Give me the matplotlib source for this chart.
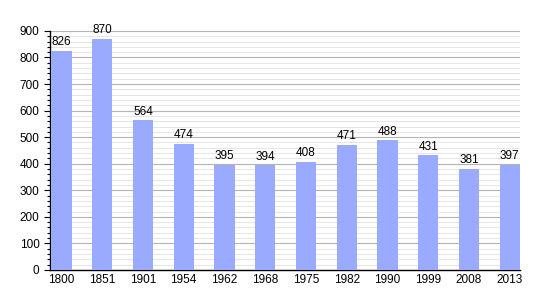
import matplotlib
matplotlib.use("Agg")
import matplotlib.pyplot as plt
from matplotlib.ticker import MultipleLocator

years = ["1800", "1851", "1901", "1954", "1962", "1968", "1975", "1982", "1990", "1999", "2008", "2013"]
population = [826, 870, 564, 474, 395, 394, 408, 471, 488, 431, 381, 397]

plt.rcParams['font.family'] = ['Liberation Sans', 'DejaVu Sans']
fig = plt.figure(figsize=(5.5, 3.0), dpi=100)
ax = fig.add_axes([0.0909, 0.1, 0.8545, 0.797])
x = list(range(len(years)))
bars = ax.bar(x, population, width=0.5, color="#99aaff", zorder=3)
for xi, v in zip(x, population):
    ax.text(xi, v + 10, str(v), ha="center", va="bottom", fontsize=8.5, zorder=4)
ax.set_xlim(-0.28, 11.25)
ax.set_ylim(0, 900)
ax.set_xticks(x)
ax.set_xticklabels(years, fontsize=8.5)
ax.yaxis.set_major_locator(MultipleLocator(100))
ax.yaxis.set_minor_locator(MultipleLocator(20))
ax.tick_params(axis="y", labelsize=8.5, length=4, width=0.8)
ax.tick_params(axis="y", which="minor", length=2, width=0.8)
ax.tick_params(axis="x", length=0, pad=3)
ax.grid(axis="y", which="major", color="#b4b4b4", linewidth=0.8, zorder=0)
ax.grid(axis="y", which="minor", color="#e2e2e2", linewidth=0.6, zorder=0)
for s in ["top", "right"]:
    ax.spines[s].set_visible(False)
ax.spines["left"].set_linewidth(1.0)
ax.spines["bottom"].set_linewidth(1.0)
fig.savefig("out.png", dpi=100)
